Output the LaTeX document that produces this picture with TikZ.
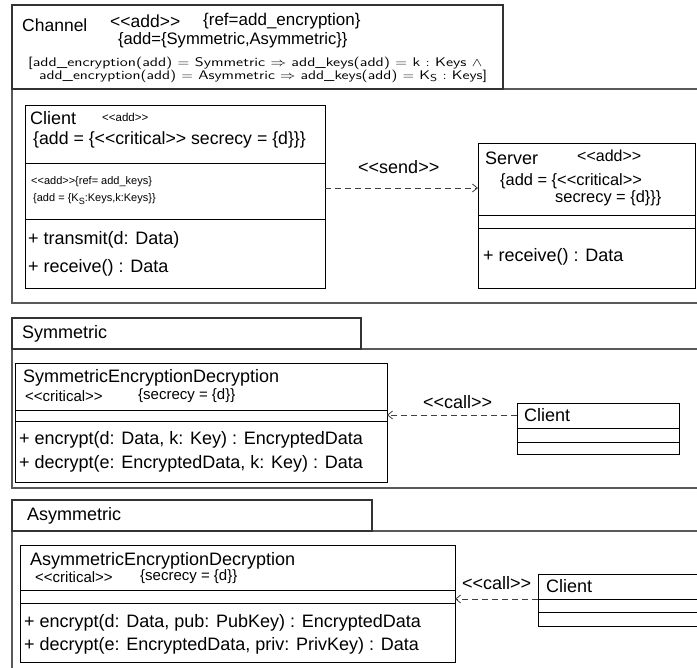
\documentclass[tikz,border=0pt]{standalone}
\usepackage{fontspec}
\usepackage{graphicx}
\setmainfont{Liberation Sans}
\usetikzlibrary{arrows.meta}
\newcommand{\fs}[1]{\fontsize{#1}{#1}\selectfont}
\tikzset{
  pkgline/.style={draw=black!65, line width=1.4pt, inner sep=0pt, outer sep=0pt, anchor=north west},
  tabline/.style={draw=black!80, line width=1.1pt, inner sep=0pt, outer sep=0pt, anchor=north west},
  clsbox/.style={draw=black, line width=0.9pt, inner sep=0pt, outer sep=0pt, anchor=north west},
  sepline/.style={draw=black, line width=0.9pt},
  lbl/.style={inner sep=0pt, anchor=west, font=\fs{18}},
  stereo/.style={inner sep=0pt, anchor=west, font=\fs{15}},
  tiny/.style={inner sep=0pt, anchor=west, font=\fs{11}},
  dep/.style={draw=black!75, line width=0.8pt, dash pattern=on 6pt off 4pt,
    -{Straight Barb[length=5pt,width=8pt,line width=0.8pt]}}
}
\begin{document}
\begin{tikzpicture}[x=1pt,y=-1pt]
\useasboundingbox (0,0) rectangle (697,668);
\clip (0,0) rectangle (697,668);
\fill[white] (0,0) rectangle (697,668);

% ---------- Channel package ----------
\node[pkgline, minimum width=740pt, minimum height=214pt] (chbody) at (12,89) {};
\node[tabline, minimum width=491pt, minimum height=84pt] (chtab) at (12,5) {};
\node[lbl, font=\fs{17.5}] (chname) at (22,25) {Channel};
\node[lbl, font=\fs{17.5}] (chst) at (110,21) {<{}<add>{}>};
\node[lbl, font=\fs{17}] (chref) at (203,21) {\{ref=add\_encryption\}};
\node[lbl, font=\fs{16.6}] (chadd) at (118,40) {\{add=\{Symmetric,Asymmetric\}\}};
\node[inner sep=0pt, anchor=west] (chf1) at (28,63) {\resizebox{454pt}{\height}{\fs{12.5}\sffamily [add\_encryption(add) $=$ Symmetric $\Rightarrow$ add\_keys(add) $=$ k $:$ Keys $\wedge$}};
\node[inner sep=0pt, anchor=west] (chf2) at (39,76) {\resizebox{448pt}{\height}{\fs{12.5}\sffamily add\_encryption(add) $=$ Asymmetric $\Rightarrow$ add\_keys(add) $=$ K\raisebox{-2.5pt}{\fs{10}S} $:$ Keys]}};

% Client class
\node[clsbox, minimum width=300pt, minimum height=183pt] (client) at (25,105) {};
\draw[sepline] (25,163) -- (325,163);
\draw[sepline] (25,219) -- (325,219);
\node[lbl] (cln) at (30,118) {Client};
\node[lbl, font=\fs{11.5}] (clst) at (102,117) {<{}<add>{}>};
\node[lbl, font=\fs{17.7}] (cladd) at (33,140) {\{add = \{<{}<critical>{}> secrecy = \{d\}\}\}};
\node[tiny] (clat1) at (31,182) {<{}<add>{}>\{ref= add\_keys\}};
\node[tiny] (clat2) at (33,199) {\{add = \{K\raisebox{-2.5pt}{\fs{9}S}:Keys,k:Keys\}\}};
\node[lbl] (clm1) at (28,240) {+ transmit(d: Data)};
\node[lbl] (clm2) at (28,268) {+ receive() : Data};

% Server class
\node[clsbox, minimum width=217pt, minimum height=145pt] (server) at (478,143) {};
\draw[sepline] (478,215) -- (695,215);
\draw[sepline] (478,228) -- (695,228);
\node[lbl] (svn) at (485,158) {Server};
\node[lbl, font=\fs{16}] (svst) at (577,156) {<{}<add>{}>};
\node[lbl, font=\fs{16.4}] (svadd1) at (500,181) {\{add = \{<{}<critical>{}>};
\node[lbl, font=\fs{16.4}] (svadd2) at (555,198) {secrecy = \{d\}\}\}};
\node[lbl] (svm1) at (483,257) {+ receive() : Data};

\coordinate (sendy) at (400,188);
\draw[dep] (client.east |- sendy) -- (server.west |- sendy);
\node[lbl] (sendl) at (358,167) {<{}<send>{}>};

% ---------- Symmetric package ----------
\node[pkgline, minimum width=740pt, minimum height=139pt] (sybody) at (12,349) {};
\node[tabline, minimum width=349pt, minimum height=31pt] (sytab) at (12,318) {};
\node[lbl] (syname) at (22,334) {Symmetric};

\node[clsbox, minimum width=372pt, minimum height=119pt] (sed) at (15,363) {};
\draw[sepline] (15,410) -- (387,410);
\draw[sepline] (15,421) -- (387,421);
\node[lbl] (sedn) at (23,378) {SymmetricEncryptionDecryption};
\node[stereo] (sedst) at (25,396) {<{}<critical>{}>};
\node[stereo] (sedsec) at (138,396) {\{secrecy = \{d\}\}};
\node[lbl] (sedm1) at (19,440) {+ encrypt(d: Data, k: Key) : EncryptedData};
\node[lbl] (sedm2) at (19,464) {+ decrypt(e: EncryptedData, k: Key) : Data};

\node[clsbox, minimum width=162pt, minimum height=51pt] (syclient) at (517,403) {};
\draw[sepline] (517,428) -- (679,428);
\draw[sepline] (517,442) -- (679,442);
\node[lbl] (sycln) at (524,415) {Client};

\coordinate (cally1) at (450,415);
\draw[dep] (syclient.west |- cally1) -- (sed.east |- cally1);
\node[lbl] (call1) at (423,402) {<{}<call>{}>};

% ---------- Asymmetric package ----------
\node[pkgline, minimum width=740pt, minimum height=200pt] (asbody) at (12,531) {};
\node[tabline, minimum width=360pt, minimum height=31pt] (astab) at (12,500) {};
\node[lbl] (asname) at (27,516) {Asymmetric};

\node[clsbox, minimum width=435pt, minimum height=117pt] (aed) at (20,545) {};
\draw[sepline] (20,590) -- (455,590);
\draw[sepline] (20,603) -- (455,603);
\node[lbl] (aedn) at (30,561) {AsymmetricEncryptionDecryption};
\node[stereo] (aedst) at (35,577) {<{}<critical>{}>};
\node[stereo] (aedsec) at (140,577) {\{secrecy = \{d\}\}};
\node[lbl] (aedm1) at (24,623) {+ encrypt(d: Data, pub: PubKey) : EncryptedData};
\node[lbl] (aedm2) at (24,646) {+ decrypt(e: EncryptedData, priv: PrivKey) : Data};

\node[clsbox, minimum width=212pt, minimum height=52pt] (asclient) at (538,574) {};
\draw[sepline] (538,599) -- (750,599);
\draw[sepline] (538,612) -- (750,612);
\node[lbl] (ascln) at (546,586) {Client};

\coordinate (cally2) at (500,599);
\draw[dep] (asclient.west |- cally2) -- (aed.east |- cally2);
\node[lbl] (call2) at (462,583) {<{}<call>{}>};
\end{tikzpicture}
\end{document}
